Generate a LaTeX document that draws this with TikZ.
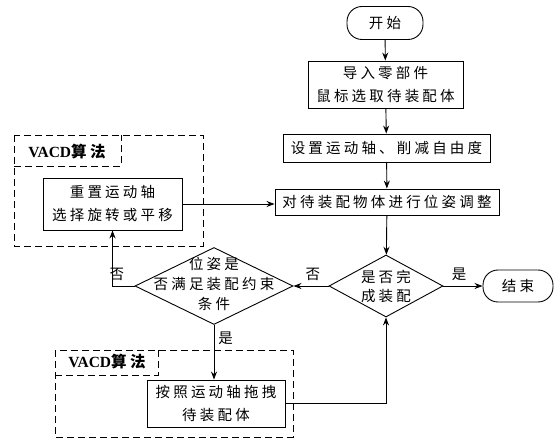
\documentclass[tikz,border=0pt]{standalone}
\usepackage{fontspec}
\setmainfont{Liberation Serif}
\newfontfamily\cjk[LetterSpace=22]{Noto Sans CJK SC}
\usetikzlibrary{shapes.geometric,arrows.meta}
\begin{document}
\begin{tikzpicture}[x=1pt,y=-1pt,
  every node/.style={font=\cjk\fontsize{14.5}{23}\selectfont},
  proc/.style={draw,line width=0.9pt,inner sep=0pt,align=center},
  term/.style={draw,line width=0.9pt,inner sep=0pt,rounded corners=15pt},
  dia/.style={draw,line width=0.9pt,diamond,inner sep=0pt,aspect=1},
  lbl/.style={inner sep=0pt,align=center},
  flow/.style={line width=0.9pt,-{Stealth[length=8pt,width=6pt]}},
  dbox/.style={line width=0.9pt,dash pattern=on 7pt off 4pt},
  tag/.style={inner sep=0pt,font=\bfseries\fontsize{15.5}{15.5}\selectfont}
]
\useasboundingbox (0,0) rectangle (555,438);
% dashed groups
\draw[dbox] (14,135) rectangle (203,246);
\draw[dbox] (14,166) -- (121,166) -- (121,135);
\node[tag] (t1) at (67,152) {VACD{\cjk 算法}};
\draw[dbox] (55,350) rectangle (293,437);
\draw[dbox] (55,375) -- (158,375) -- (158,350);
\node[tag] (t2) at (107,362) {VACD{\cjk 算法}};
% nodes
\node[term,minimum width=76pt,minimum height=33pt] (start) at (385,23) {开始};
\node[proc,minimum width=155pt,minimum height=47pt] (imp) at (385.5,84.5) {导入零部件\\鼠标选取待装配体};
\node[proc,minimum width=207pt,minimum height=28pt] (set) at (386.5,148) {设置运动轴、削减自由度};
\node[proc,minimum width=224pt,minimum height=26pt] (adj) at (387,202) {对待装配物体进行位姿调整};
\node[dia,minimum width=114pt,minimum height=62pt] (d1) at (386,286) {};
\node[lbl,font=\cjk\fontsize{14.5}{19}\selectfont] (d1t) at (386,286) {是否完\\成装配};
\node[term,minimum width=70pt,minimum height=32pt] (end) at (518,286) {结束};
\node[dia,minimum width=158pt,minimum height=77pt] (d2) at (214,286) {};
\node[lbl,font=\cjk\fontsize{14.5}{20}\selectfont] (d2t) at (214,284) {位姿是\\否满足装配约束\\条件};
\node[proc,minimum width=139pt,minimum height=52pt] (reset) at (112.5,204) {重置运动轴\\选择旋转或平移};
\node[proc,minimum width=138pt,minimum height=47pt] (drag) at (216,403.5) {按照运动轴拖拽\\待装配体};
% connectors
\draw[flow] (start) -- (imp);
\draw[flow] (imp) -- (set);
\draw[flow] (set) -- (adj);
\draw[flow] (adj) -- (d1);
\draw[flow] (d1.east) -- node[lbl,above=5pt,pos=0.4] (y1) {是} (end.west);
\draw[flow] (d1.west) -- node[lbl,above=5pt,pos=0.45] (n1) {否} (d2.east);
\draw[flow] (d2.west) -| node[lbl,above=5pt,pos=0.4] (n2) {否} (reset.south);
\draw[flow] (reset.east) -- (reset.east -| adj.west);
\draw[flow] (d2.south) -- node[lbl,right=4pt,pos=0.25] (y2) {是} (drag.north -| d2.south);
\draw[flow] (drag.east) -| (d1.south);
\end{tikzpicture}
\end{document}
